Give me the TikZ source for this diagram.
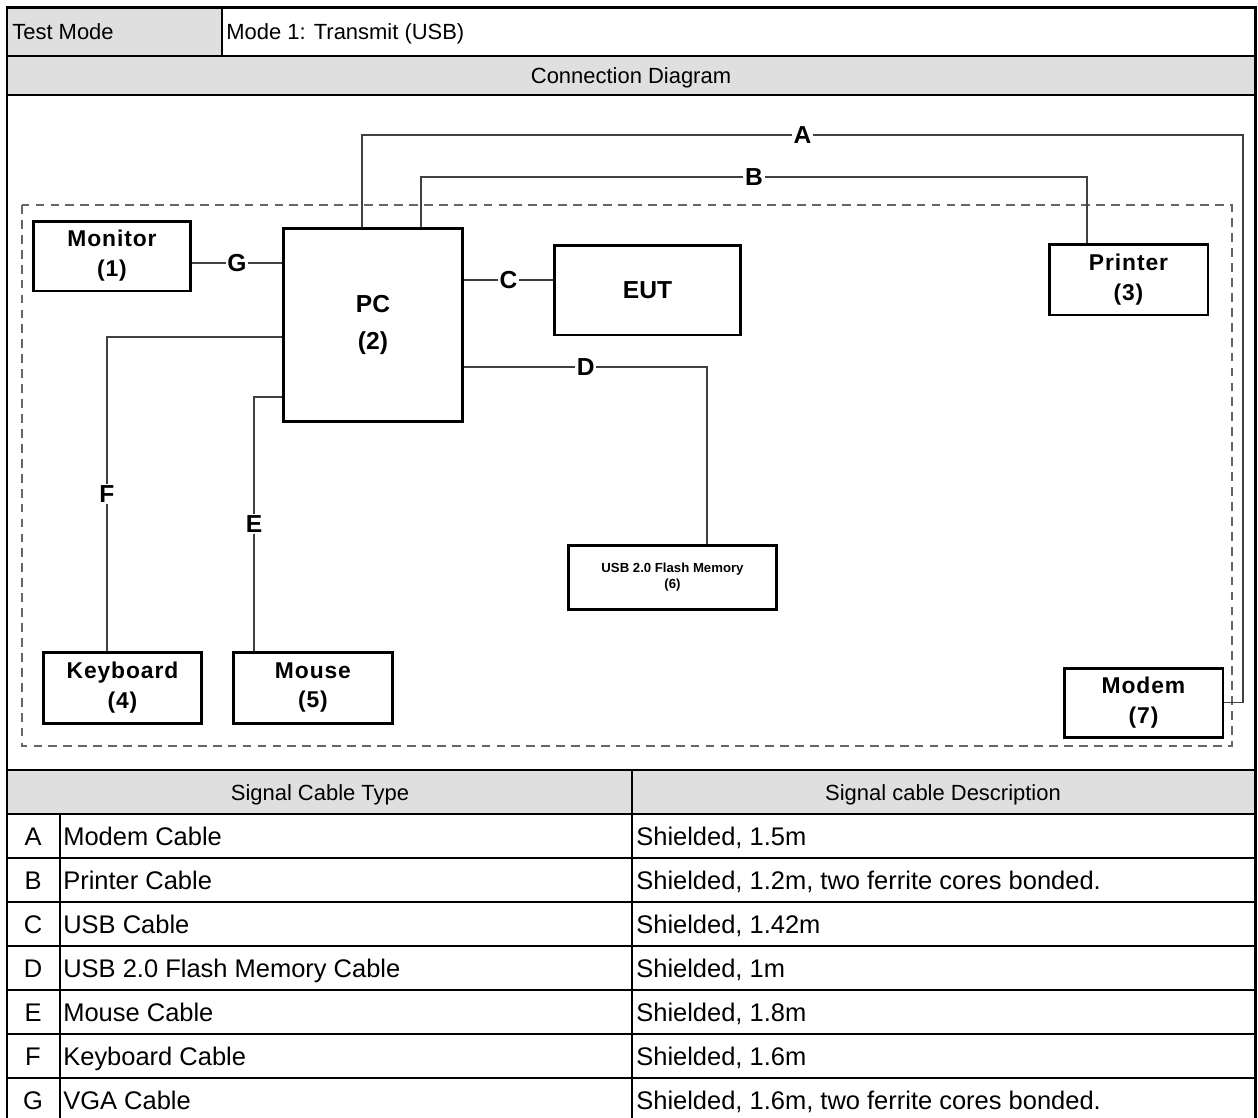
\documentclass[tikz,border=0pt]{standalone}
\usepackage{fontspec}
\setmainfont{Liberation Sans}
\newfontfamily\spacedfont{Liberation Sans}[LetterSpace=4.0]
\usetikzlibrary{positioning}

\definecolor{headgray}{RGB}{223,223,223}

\begin{document}
\begin{tikzpicture}[x=0.02cm, y=-0.02cm]
    \tikzstyle{device} = [rectangle, draw, line width=1.7pt, align=center, inner sep=0pt, font=\spacedfont\bfseries\fontsize{13}{17}\selectfont]
    \tikzstyle{cable} = [draw=black!75, line width=0.6pt]
    \tikzstyle{tag} = [fill=white, inner sep=1pt, font=\bfseries\fontsize{14}{16}\selectfont]
    \tikzstyle{cell} = [inner sep=0pt, font=\fontsize{12.5}{14}\selectfont]
    \tikzstyle{row} = [inner sep=0pt, font=\fontsize{14.5}{16}\selectfont]
    \tikzstyle{grid} = [line width=1.3pt]

    \useasboundingbox (0,0) rectangle (1258,1117);

    % Shaded header cells
    \fill [headgray] (7,7) rectangle (222,56);
    \fill [headgray] (7,56) rectangle (1255,95);
    \fill [headgray] (7,770) rectangle (1255,814);

    % Table rules
    \draw [grid] (7,56) -- (1255,56);
    \draw [grid] (7,95) -- (1255,95);
    \draw [grid] (7,770) -- (1255,770);
    \draw [grid] (7,814) -- (1255,814);
    \draw [grid] (7,858) -- (1255,858);
    \draw [grid] (7,902) -- (1255,902);
    \draw [grid] (7,946) -- (1255,946);
    \draw [grid] (7,990) -- (1255,990);
    \draw [grid] (7,1034) -- (1255,1034);
    \draw [grid] (7,1078) -- (1255,1078);
    \draw [grid] (222,7) -- (222,56);
    \draw [grid] (632,770) -- (632,1122);
    \draw [grid] (60,814) -- (60,1122);
    \draw [line width=1.7pt] (7,1122) -- (7,7) -- (1255,7) -- (1255,1122);

    % Title rows
    \node [cell, anchor=base west] (testmode) at (12,39) {Test Mode};
    \node [cell, anchor=base west] (mode) at (226,39) {Mode 1: Transmit (USB)};
    \node [cell, anchor=base] (diagtitle) at (631,83) {Connection Diagram};

    % Support frame
    \draw [draw=black!60, line width=0.6pt, dash pattern=on 5pt off 3.5pt] (22,205) rectangle (1232,746);

    % Devices
    \node [device, minimum width=3.16cm, minimum height=1.4cm] (monitor) at (112,256) {Monitor\\(1)};
    \node [device, minimum width=3.6cm, minimum height=3.88cm, font=\bfseries\fontsize{14}{21}\selectfont] (pc) at (373,325) {PC\\(2)};
    \node [device, minimum width=3.74cm, minimum height=1.8cm, font=\bfseries\fontsize{14}{16}\selectfont] (eut) at (647.5,290) {EUT};
    \node [device, minimum width=3.18cm, minimum height=1.42cm] (printer) at (1128.5,279.5) {Printer\\(3)};
    \node [device, minimum width=4.18cm, minimum height=1.28cm, font=\bfseries\fontsize{7.5}{9.5}\selectfont] (flash) at (672.5,577) {USB 2.0 Flash Memory\\(6)};
    \node [device, minimum width=3.18cm, minimum height=1.42cm] (kbd) at (122.5,687.5) {Keyboard\\(4)};
    \node [device, minimum width=3.18cm, minimum height=1.42cm, right of=kbd, node distance=3.81cm] (mouse) {Mouse\\(5)};
    \node [device, minimum width=3.18cm, minimum height=1.38cm] (modem) at (1143.5,702.5) {Modem\\(7)};

    % Cables
    \coordinate (aLeft) at (362,135);
    \coordinate (aRight) at (1243,135);
    \draw [cable] (aLeft |- pc.north) -- (aLeft) -- node [tag] {A} (aRight) |- (modem.east);

    \coordinate (bLeft) at (421,177);
    \coordinate (bRight) at (1087,177);
    \draw [cable] (bLeft |- pc.north) -- (bLeft) -- node [tag] {B} (bRight) -- (bRight |- printer.north);

    \coordinate (gLine) at (0,263);
    \draw [cable] (monitor.east |- gLine) -- node [tag] {G} (pc.west |- gLine);

    \coordinate (cLine) at (0,280);
    \draw [cable] (pc.east |- cLine) -- node [tag] {C} (eut.west |- cLine);

    \coordinate (dBend) at (707,367);
    \draw [cable] (pc.east |- dBend) -- node [tag] {D} (dBend) -- (dBend |- flash.north);

    \coordinate (fBend) at (107,337);
    \draw [cable] (pc.west |- fBend) -- (fBend) -- node [tag] {F} (fBend |- kbd.north);

    \coordinate (eBend) at (254,397);
    \draw [cable] (pc.west |- eBend) -- (eBend) -- node [tag] {E} (eBend |- mouse.north);

    % Cable table
    \node [cell, anchor=base] (typehead) at (320,800) {Signal Cable Type};
    \node [cell, anchor=base] (deschead) at (943,800) {Signal cable Description};

    \node [row, anchor=base] (letA) at (33,845) {A};
    \node [row, anchor=base west] (typeA) at (63,845) {Modem Cable};
    \node [row, anchor=base west] (descA) at (636,845) {Shielded, 1.5m};

    \node [row, anchor=base] (letB) at (33,889) {B};
    \node [row, anchor=base west] (typeB) at (63,889) {Printer Cable};
    \node [row, anchor=base west] (descB) at (636,889) {Shielded, 1.2m, two ferrite cores bonded.};

    \node [row, anchor=base] (letC) at (33,933) {C};
    \node [row, anchor=base west] (typeC) at (63,933) {USB Cable};
    \node [row, anchor=base west] (descC) at (636,933) {Shielded, 1.42m};

    \node [row, anchor=base] (letD) at (33,977) {D};
    \node [row, anchor=base west] (typeD) at (63,977) {USB 2.0 Flash Memory Cable};
    \node [row, anchor=base west] (descD) at (636,977) {Shielded, 1m};

    \node [row, anchor=base] (letE) at (33,1021) {E};
    \node [row, anchor=base west] (typeE) at (63,1021) {Mouse Cable};
    \node [row, anchor=base west] (descE) at (636,1021) {Shielded, 1.8m};

    \node [row, anchor=base] (letF) at (33,1065) {F};
    \node [row, anchor=base west] (typeF) at (63,1065) {Keyboard Cable};
    \node [row, anchor=base west] (descF) at (636,1065) {Shielded, 1.6m};

    \node [row, anchor=base] (letG) at (33,1109) {G};
    \node [row, anchor=base west] (typeG) at (63,1109) {VGA Cable};
    \node [row, anchor=base west] (descG) at (636,1109) {Shielded, 1.6m, two ferrite cores bonded.};
\end{tikzpicture}
\end{document}
